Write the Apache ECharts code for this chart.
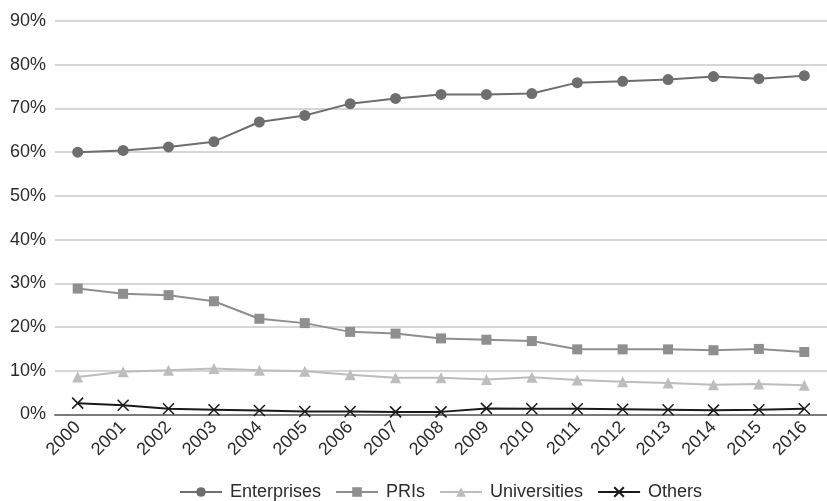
<!DOCTYPE html>
<html>
<head>
<meta charset="utf-8">
<title>R&D expenditure shares by performer, 2000–2016</title>
<script src="https://cdn.jsdelivr.net/npm/echarts@6/dist/echarts.min.js"></script>
<style>
  html, body { margin: 0; padding: 0; background: #ffffff; }
  #chart { width: 827px; height: 501px; }
</style>
</head>
<body>
<div id="chart"></div>
<script>
// Share of R&D expenditure by performing sector (%)
const years = ['2000', '2001', '2002', '2003', '2004', '2005', '2006', '2007', '2008',
  '2009', '2010', '2011', '2012', '2013', '2014', '2015', '2016'];

const enterprises = [60.0, 60.4, 61.2, 62.4, 66.9, 68.4, 71.1, 72.3, 73.2,
  73.2, 73.4, 75.9, 76.2, 76.6, 77.3, 76.8, 77.5];
const pris = [28.8, 27.6, 27.3, 25.9, 21.9, 20.9, 18.9, 18.5, 17.4,
  17.1, 16.8, 14.9, 14.9, 14.9, 14.7, 15.0, 14.3];
const universities = [8.6, 9.8, 10.1, 10.5, 10.1, 9.9, 9.1, 8.4, 8.4,
  8.0, 8.5, 7.9, 7.5, 7.2, 6.8, 7.0, 6.7];
const others = [2.6, 2.1, 1.3, 1.1, 0.9, 0.7, 0.7, 0.6, 0.6,
  1.4, 1.3, 1.3, 1.2, 1.1, 1.0, 1.1, 1.3];

const yMin = 0, yMax = 90, yStep = 10;

const FONT = "'Liberation Sans', Arial, Helvetica, sans-serif";
const TEXT = '#2b2b2b';

const chart = echarts.init(document.getElementById('chart'), null, { renderer: 'canvas' });

// X-shaped marker drawn as two crossing strokes
const crossSymbol = 'path://M0,0L10,10M10,0L0,10';

chart.setOption({
  animation: false,
  backgroundColor: '#ffffff',
  textStyle: { fontFamily: FONT },
  grid: { left: 55, top: 21, width: 777, height: 393.5, containLabel: false },
  legend: {
    left: 174,
    bottom: -5,
    itemWidth: 42,
    itemHeight: 12,
    itemGap: 14,
    textStyle: { fontFamily: FONT, fontSize: 18, color: TEXT, padding: [0, 0, 0, 3] },
    data: ['Enterprises', 'PRIs', 'Universities', 'Others']
  },
  xAxis: {
    type: 'category',
    data: years,
    boundaryGap: true,
    axisTick: { show: false },
    axisLine: { show: true, lineStyle: { color: '#7a7a7a', width: 2 } },
    axisLabel: { rotate: 45, margin: 10, fontSize: 18, color: TEXT, fontFamily: FONT, interval: 0 },
    splitLine: { show: false }
  },
  yAxis: {
    type: 'value',
    min: yMin,
    max: yMax,
    interval: yStep,
    axisLine: { show: false },
    axisTick: { show: false },
    axisLabel: { formatter: '{value}%', fontSize: 18, color: TEXT, fontFamily: FONT, margin: 9 },
    splitLine: { lineStyle: { color: '#c8c8c8', width: 1.5 } }
  },
  series: [
    {
      name: 'Enterprises',
      type: 'line',
      data: enterprises,
      symbol: 'circle',
      symbolSize: 11,
      lineStyle: { color: '#6e6e6e', width: 2 },
      itemStyle: { color: '#6e6e6e' },
      z: 4
    },
    {
      name: 'PRIs',
      type: 'line',
      data: pris,
      symbol: 'rect',
      symbolSize: 10,
      lineStyle: { color: '#8f8f8f', width: 2 },
      itemStyle: { color: '#8f8f8f' },
      z: 3
    },
    {
      name: 'Universities',
      type: 'line',
      data: universities,
      symbol: 'triangle',
      symbolSize: 11,
      lineStyle: { color: '#bdbdbd', width: 2 },
      itemStyle: { color: '#bdbdbd' },
      z: 2
    },
    {
      name: 'Others',
      type: 'line',
      data: others,
      symbol: crossSymbol,
      symbolSize: 11,
      lineStyle: { color: '#1a1a1a', width: 2 },
      itemStyle: { color: '#1a1a1a', borderColor: '#1a1a1a', borderWidth: 1.5 },
      z: 5
    }
  ]
});
</script>
</body>
</html>
